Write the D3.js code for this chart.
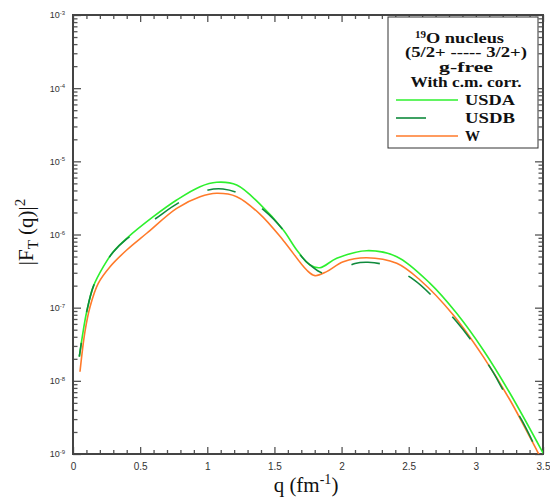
<!DOCTYPE html>
<html><head><meta charset="utf-8">
<script src="https://cdn.jsdelivr.net/npm/d3@7"></script>
<style>body{margin:0;background:#fff}svg{display:block}</style>
</head><body>
<svg id="c" width="550" height="503"></svg>
<script>
// Data (q in fm^-1, |F_T(q)|^2)
const qUSDA = [0.047,0.077,0.102,0.151,0.226,0.300,0.400,0.598,0.772,0.946,1.070,1.219,1.392,1.566,1.666,1.765,1.839,1.964,2.187,2.411,2.659,2.857,3.055,3.254,3.502];
const vUSDA = [2.14e-8,4.95e-8,8.8e-8,1.94e-7,3.63e-7,5.82e-7,8.87e-7,1.75e-6,2.96e-6,4.50e-6,5.17e-6,4.75e-6,2.60e-6,1.15e-6,6.14e-7,3.83e-7,3.52e-7,4.73e-7,6.01e-7,4.98e-7,2.15e-7,8.38e-8,2.64e-8,6.76e-9,1.02e-9];
const qUSDB = [0.047,0.077,0.102,0.151,0.226,0.300,0.400,0.611,0.792,1.008,1.117,1.231,1.430,1.566,1.703,1.765,1.864,1.988,2.100,2.197,2.323,2.534,2.696,2.857,2.986,3.118,3.217,3.341,3.453];
const vUSDB = [2.14e-8,4.95e-8,8.8e-8,1.94e-7,3.63e-7,5.77e-7,8.69e-7,1.63e-6,2.75e-6,4.06e-6,4.19e-6,3.66e-6,2.09e-6,1.15e-6,4.98e-7,3.83e-7,2.95e-7,3.27e-7,4.02e-7,4.17e-7,3.83e-7,2.44e-7,1.32e-7,6.43e-8,3.19e-8,1.41e-8,6.75e-9,2.92e-9,1.13e-9];
const qW = [0.052,0.089,0.127,0.188,0.276,0.400,0.549,0.772,0.946,1.070,1.219,1.392,1.566,1.740,1.802,1.889,2.013,2.187,2.411,2.584,2.832,3.055,3.254,3.453,3.52];
const vW = [1.33e-8,4.70e-8,1.03e-7,2.15e-7,3.63e-7,6.14e-7,1.04e-6,2.28e-6,3.29e-6,3.66e-6,3.29e-6,1.90e-6,8.3e-7,3.27e-7,2.74e-7,3.11e-7,4.25e-7,4.82e-7,4.04e-7,2.39e-7,7.94e-8,2.14e-8,5.47e-9,1.13e-9,6.5e-10];
const xTicks = [0,0.5,1,1.5,2,2.5,3,3.5];
const xTickLabels = ["0","0.5","1","1.5","2","2.5","3","3.5"];
const yExponents = [-9,-8,-7,-6,-5,-4,-3];
const legendTitle = ["(5/2+ ----- 3/2+)","g-free","With c.m. corr."];
const seriesNames = ["USDA","USDB","W"];

const L=73,R=543,T=15,B=454;
const svg=d3.select("#c");
const x=d3.scaleLinear().domain([0,3.5]).range([L,R]);
const y=d3.scaleLog().domain([1e-9,1e-3]).range([B,T]);

const xMinor=d3.range(0,36).map(i=>i/10).filter(v=>Math.abs(v*2-Math.round(v*2))>1e-6);
const yMajor=yExponents.map(e=>Math.pow(10,e));
const yMinor=[];
for(let e=-9;e<-3;e++) for(let k=2;k<=9;k++) yMinor.push(k*Math.pow(10,e));

const tickCol="#555";
function styleAxis(g){g.select(".domain").remove();g.selectAll("line").attr("stroke",tickCol).attr("stroke-width",1.3);}

// bottom
svg.append("g").attr("transform",`translate(0,${B})`)
 .call(d3.axisBottom(x).tickValues(xTicks).tickFormat((d,i)=>xTickLabels[i]).tickSize(-7).tickSizeOuter(0).tickPadding(9))
 .call(styleAxis).call(g=>g.selectAll("text").attr("font-family","Liberation Sans, Arial, sans-serif").attr("font-size",10).attr("fill","#333"));
svg.append("g").attr("transform",`translate(0,${B})`)
 .call(d3.axisBottom(x).tickValues(xMinor).tickFormat("").tickSize(-4).tickSizeOuter(0)).call(styleAxis);
// top
svg.append("g").attr("transform",`translate(0,${T})`)
 .call(d3.axisTop(x).tickValues(xTicks).tickFormat("").tickSize(-7).tickSizeOuter(0)).call(styleAxis);
svg.append("g").attr("transform",`translate(0,${T})`)
 .call(d3.axisTop(x).tickValues(xMinor).tickFormat("").tickSize(-4).tickSizeOuter(0)).call(styleAxis);
// left
const yl=svg.append("g").attr("transform",`translate(${L},0)`)
 .call(d3.axisLeft(y).tickValues(yMajor).tickSize(-8).tickSizeOuter(0).tickPadding(8))
 .call(styleAxis);
yl.selectAll("text").each(function(d,i){
  const t=d3.select(this).text("").attr("font-family","Liberation Sans, Arial, sans-serif").attr("fill","#333").attr("font-size",9);
  t.append("tspan").text("10");
  t.append("tspan").attr("font-size",6).attr("dy","-0.55em").text(String(yExponents[i]));
});
svg.append("g").attr("transform",`translate(${L},0)`)
 .call(d3.axisLeft(y).tickValues(yMinor).tickFormat("").tickSize(-4.5).tickSizeOuter(0)).call(styleAxis);
// right
svg.append("g").attr("transform",`translate(${R},0)`)
 .call(d3.axisRight(y).tickValues(yMajor).tickFormat("").tickSize(-8).tickSizeOuter(0)).call(styleAxis);
svg.append("g").attr("transform",`translate(${R},0)`)
 .call(d3.axisRight(y).tickValues(yMinor).tickFormat("").tickSize(-4.5).tickSizeOuter(0)).call(styleAxis);

// frame
svg.append("rect").attr("x",L).attr("y",T).attr("width",R-L).attr("height",B-T)
 .attr("fill","none").attr("stroke","#444").attr("stroke-width",2);

// curves
svg.append("clipPath").attr("id","clip").append("rect").attr("x",L).attr("y",T).attr("width",R-L).attr("height",B-T);
const line=d3.line().x(d=>x(d[0])).y(d=>y(d[1])).curve(d3.curveCatmullRom.alpha(0.5));
const cols={USDA:"#2ef02e",USDB:"#0f8a3c",W:"#ff7a2a"};
const gC=svg.append("g").attr("clip-path","url(#clip)");
gC.append("path").datum(d3.zip(qW,vW)).attr("d",line).attr("fill","none").attr("stroke",cols.W).attr("stroke-width",1.6);
gC.append("path").datum(d3.zip(qUSDA,vUSDA)).attr("d",line).attr("fill","none").attr("stroke",cols.USDA).attr("stroke-width",1.6);
gC.append("path").datum(d3.zip(qUSDB,vUSDB)).attr("d",line).attr("fill","none").attr("stroke",cols.USDB).attr("stroke-width",1.6)
 .attr("stroke-dasharray","29,31").attr("stroke-dashoffset",15);

// legend
const lg=svg.append("g");
lg.append("rect").attr("x",388).attr("y",17).attr("width",150).attr("height",131).attr("fill","#fff").attr("stroke","#333").attr("stroke-width",1);
const ff="Liberation Serif, Times New Roman, serif";
const t1=lg.append("text").attr("x",415).attr("y",43).attr("font-family",ff).attr("font-weight","bold").attr("font-size",14).attr("fill","#111");
t1.append("tspan").attr("font-size",11).attr("dy",-5).text("19");
t1.append("tspan").attr("dy",5).attr("textLength",78).attr("lengthAdjust","spacingAndGlyphs").text("O nucleus");
const lw=[122,54,111], lyy=[57,72,87];
legendTitle.forEach((s,i)=>{
  lg.append("text").attr("x",466).attr("y",lyy[i]).attr("text-anchor","middle").attr("font-family",ff).attr("font-weight","bold")
   .attr("font-size",14).attr("fill","#111").attr("textLength",lw[i]).attr("lengthAdjust","spacingAndGlyphs").text(s);
});
const ly=[100,118,136], lx2=[458,426,458], tw=[50,50,15];
seriesNames.forEach((n,i)=>{
  lg.append("line").attr("x1",396).attr("x2",lx2[i]).attr("y1",ly[i]).attr("y2",ly[i]).attr("stroke",cols[n]).attr("stroke-width",1.6);
  lg.append("text").attr("x",465).attr("y",ly[i]+5).attr("font-family",ff).attr("font-weight","bold").attr("font-size",14)
   .attr("fill","#111").attr("textLength",tw[i]).attr("lengthAdjust","spacingAndGlyphs").text(n);
});

// axis titles
const xt=svg.append("text").attr("x",306).attr("y",492).attr("text-anchor","middle").attr("font-family",ff).attr("font-size",21).attr("fill","#111");
xt.append("tspan").text("q (fm");
xt.append("tspan").attr("font-size",14).attr("dy",-8).text("-1");
xt.append("tspan").attr("dy",8).text(")");
const yt=svg.append("text").attr("transform","translate(33,232) rotate(-90)").attr("text-anchor","middle").attr("font-family",ff).attr("font-size",21).attr("fill","#111");
yt.append("tspan").text("|F");
yt.append("tspan").attr("font-size",15).attr("dy",5).text("T");
yt.append("tspan").attr("dy",-5).text(" (q)|");
yt.append("tspan").attr("font-size",15).attr("dy",-8).text("2");
</script>
</body></html>
